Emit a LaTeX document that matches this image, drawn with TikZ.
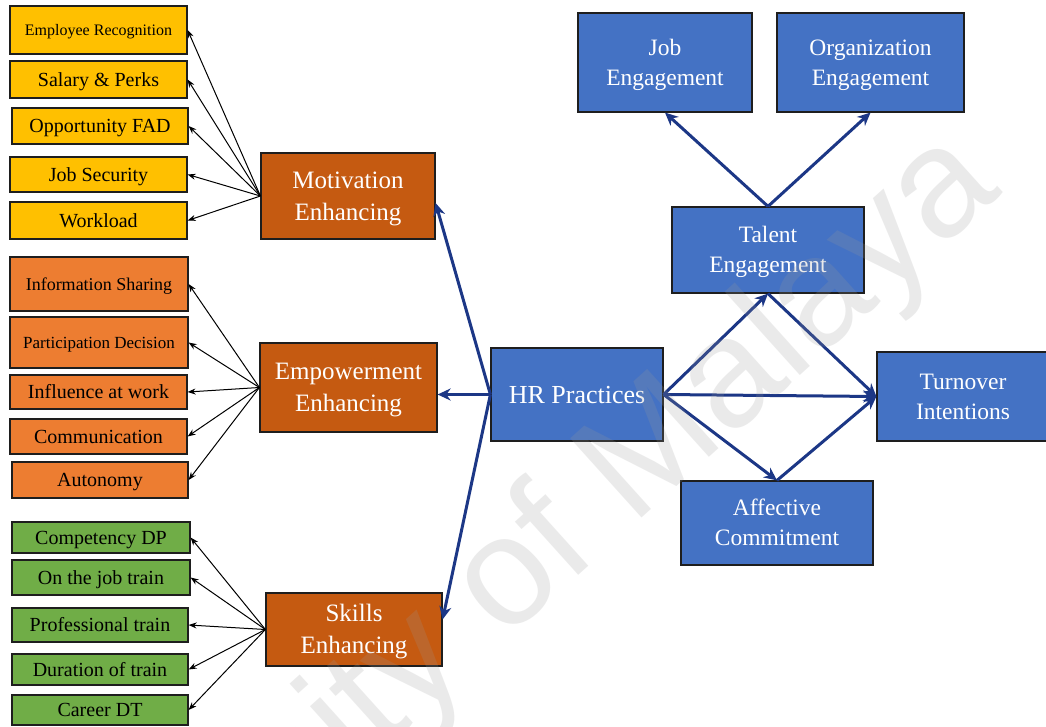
\documentclass[tikz,border=0pt]{standalone}
\usepackage{fontspec}
\setmainfont{Liberation Serif}
\newfontfamily\wmfont{Liberation Sans}
\usetikzlibrary{arrows.meta,calc}

\definecolor{boxYellow}{HTML}{FFC000}
\definecolor{boxOrange}{HTML}{ED7D31}
\definecolor{boxGreen}{HTML}{70AD47}
\definecolor{boxRust}{HTML}{C55A11}
\definecolor{boxBlue}{HTML}{4472C4}
\definecolor{linkBlue}{HTML}{1C3786}
\definecolor{tipBlue}{HTML}{2B55A8}
\definecolor{edgeDark}{HTML}{1E1E1E}
\definecolor{wmGray}{HTML}{9A9A9A}

% line strut with the ascent and descent of the text face
\newcommand\linestrut{\rule[-0.216em]{0pt}{1.107em}}
% two-line label with struts on both lines
\newcommand\twolines[2]{\linestrut#1\\#2\linestrut}

\tikzset{
  base/.style={draw=edgeDark, line width=1.2pt, inner sep=0pt, align=center,
    execute at begin node=\linestrut, execute at end node=\linestrut},
  sz/.style 2 args={minimum width=#1pt, minimum height=#2pt},
  leaf/.style={base, text=black, font=\fontsize{20}{22}\selectfont},
  yel/.style={leaf, fill=boxYellow},
  org/.style={leaf, fill=boxOrange},
  grn/.style={leaf, fill=boxGreen},
  hub/.style={base, fill=boxRust, text=white, font=\fontsize{25}{32}\selectfont},
  core/.style={base, fill=boxBlue, text=white, font=\fontsize{23.5}{30}\selectfont},
  thin/.style={draw=black, line width=1pt, -{Stealth[length=8pt,width=6pt]}},
  bold/.style={draw=linkBlue, line width=3pt, -{Stealth[length=13pt,width=12pt,fill=tipBlue]}},
}

\begin{document}
\begin{tikzpicture}[x=1pt,y=-1pt]
\useasboundingbox (0,0) rectangle (1046,727);
\fill[white] (0,0) rectangle (1046,727);

% motivation-enhancing practices
\node[yel, sz={177}{48}, font=\fontsize{16}{18}\selectfont] (er) at (98.5,30) {Employee Recognition};
\node[yel, sz={177}{37}] (sp) at (98.5,79.5) {Salary \& Perks};
\node[yel, sz={176}{36}] (of) at (100,126) {Opportunity FAD};
\node[yel, sz={177}{35}] (js) at (98.5,174.5) {Job Security};
\node[yel, sz={177}{37}] (wl) at (98.5,220.5) {Workload};
\node[hub, sz={174}{86}] (mot) at (348,196) {\twolines{Motivation}{Enhancing}};

% empowerment-enhancing practices
\node[org, sz={178}{54}, font=\fontsize{18}{20}\selectfont] (is) at (99,284) {Information Sharing};
\node[org, sz={178}{51}, font=\fontsize{17}{19}\selectfont] (pd) at (99,342.5) {Participation Decision};
\node[org, sz={177}{34}] (iw) at (98.5,392) {Influence at work};
\node[org, sz={177}{35}] (cm) at (98.5,436.5) {Communication};
\node[org, sz={176}{36}] (au) at (100,480) {Autonomy};
\node[hub, sz={177}{89}] (emp) at (348.5,387.5) {\twolines{Empowerment}{Enhancing}};

% skills-enhancing practices
\node[grn, sz={178}{31}] (cd) at (101,537.5) {Competency DP};
\node[grn, sz={178}{35}] (oj) at (101,577.5) {On the job train};
\node[grn, sz={176}{34}] (pt) at (100,625) {Professional train};
\node[grn, sz={176}{31}] (dt) at (100,669.5) {Duration of train};
\node[grn, sz={176}{30}] (ct) at (100,710) {Career DT};
\node[hub, sz={176}{73}] (sk) at (354,629.5) {\twolines{Skills}{Enhancing}};

% engagement model
\node[core, sz={174}{99}] (je) at (665,62.5) {\twolines{Job}{Engagement}};
\node[core, sz={187}{99}] (oe) at (870.5,62.5) {\twolines{Organization}{Engagement}};
\node[core, sz={192}{86}] (te) at (768,250) {\twolines{Talent}{Engagement}};
\node[core, sz={172}{93}, font=\fontsize{26}{30}\selectfont] (hr) at (577,394.5) {HR Practices};
\node[core, sz={172}{89}, text width=170pt] (ti) at (963,396.5) {\twolines{Turnover}{Intentions}};
\node[core, sz={192}{84}] (ac) at (777,523) {\twolines{Affective}{Commitment}};

% bundles to their practices
\foreach \t in {er,sp,of,js,wl} \draw[thin] (mot.west) -- (\t.east);
\foreach \t in {is,pd,iw,cm,au} \draw[thin] (emp.west) -- (\t.east);
\foreach \t in {cd,oj,pt,dt,ct} \draw[thin] (sk.west) -- (\t.east);

% HR practices to bundles
\draw[bold] (hr.west) -- ($(mot.east)+(0,7)$);
\draw[bold] (hr.west) -- (hr.west -| emp.east);
\draw[bold] (hr.west) -- ($(sk.east)+(0,-10)$);

% HR practices to outcomes
\draw[bold] (hr.east) -- (te.south);
\draw[bold] (hr.east) -- (ti.west);
\draw[bold] (hr.east) -- (ac.north);
\draw[bold] (te.south) -- (ti.west);
\draw[bold] (ac.north) -- (ti.west);
\draw[bold] (te.north) -- (je.south);
\draw[bold] (te.north) -- (oe.south);

% watermark
\node[rotate=42, anchor=base east, inner sep=0pt, text=wmGray, opacity=0.2,
      font=\wmfont\fontsize{155}{155}\selectfont] (wm) at (1004,192) {University of Malaya};
\end{tikzpicture}
\end{document}
